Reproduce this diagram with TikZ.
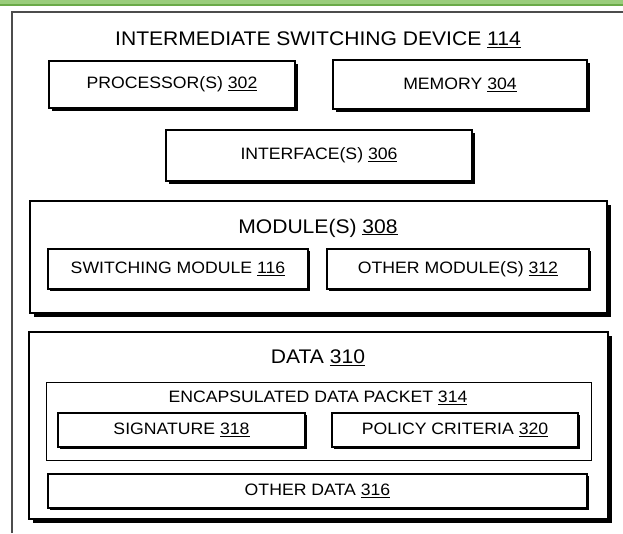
\documentclass[tikz,border=0pt]{standalone}
\usepackage{fontspec}
\setmainfont[FakeStretch=1.07]{Liberation Sans}
\usetikzlibrary{calc}
\usetikzlibrary{positioning}

\definecolor{barlight}{HTML}{9ACD7C}
\definecolor{bardark}{HTML}{6AAA48}

\tikzset{
	lbl/.style={font=\fontsize{16.5}{19}\selectfont, inner sep=0pt},
	ttl/.style={font=\fontsize{19.7}{24}\selectfont, inner sep=0pt},
}

\begin{document}
\begin{tikzpicture}[x=1pt, y=-1pt]
		\newcommand\hako[7]{
			% (name, x1, y1, x2, y2, shadow, line width)
			\coordinate (#1-nw) at (#2, #3);
			\coordinate (#1-se) at (#4, #5);
			\path[fill=black] ($(#1-nw) + (#6, #6)$) rectangle ($(#1-se) + (#6, #6)$);
			\path[draw=black, fill=white, line width=#7] (#1-nw) rectangle (#1-se);
			\coordinate (#1) at ($(#1-nw)!0.5!(#1-se)$);
		}
		
		\useasboundingbox (0, 0) rectangle (623, 533);
		\fill[barlight] (0, 0) rectangle (623, 5);
		\draw[bardark, line width=1.5pt] (0, 5) -- (623, 5);
		\draw[black!70, line width=2pt] (12, 533) -- (12, 12) -- (623, 12);
		
		\node[ttl] (dev) at (318, 40) {INTERMEDIATE SWITCHING DEVICE \underline{114}};
		
		\hako{proc}{49}{61}{295}{108}{3}{1.3pt}
		\hako{mem}{333}{60}{587}{109}{3}{1.3pt}
		\hako{intf}{166}{130}{472}{181}{3}{1.3pt}
		\node[lbl] (proc-t) at (proc) {PROCESSOR(S) \underline{302}};
		\node[lbl] (mem-t) at (mem) {MEMORY \underline{304}};
		\node[lbl] (intf-t) at (intf) {INTERFACE(S) \underline{306}};
		
		% modules
		\hako{mods}{30}{201}{607}{313}{4}{1.4pt}
		\node[ttl] (mods-t) at (318, 228) {MODULE(S) \underline{308}};
		\hako{sw}{48}{249}{308}{289}{2}{1.3pt}
		\hako{omod}{327}{249}{589}{289}{2}{1.3pt}
		\node[lbl] (sw-t) at (sw) {SWITCHING MODULE \underline{116}};
		\node[lbl] (omod-t) at (omod) {OTHER MODULE(S) \underline{312}};
		
		% data
		\hako{data}{29}{332}{608}{519}{4}{1.4pt}
		\node[ttl] (data-t) at (318, 358) {DATA \underline{310}};
		\hako{pkt}{46}{382}{591}{460}{0}{1pt}
		\node[lbl] (pkt-t) at (318, 398) {ENCAPSULATED DATA PACKET \underline{314}};
		\hako{sig}{58}{413}{305}{447}{1.5}{1.5pt}
		\hako{pol}{332}{413}{578}{447}{1.5}{1.5pt}
		\node[lbl] (sig-t) at (sig) {SIGNATURE \underline{318}};
		\node[lbl] (pol-t) at (pol) {POLICY CRITERIA \underline{320}};
		\hako{odat}{48}{474}{587}{508}{2}{1.3pt}
		\node[lbl] (odat-t) at (odat) {OTHER DATA \underline{316}};
		
	\end{tikzpicture}
\end{document}
